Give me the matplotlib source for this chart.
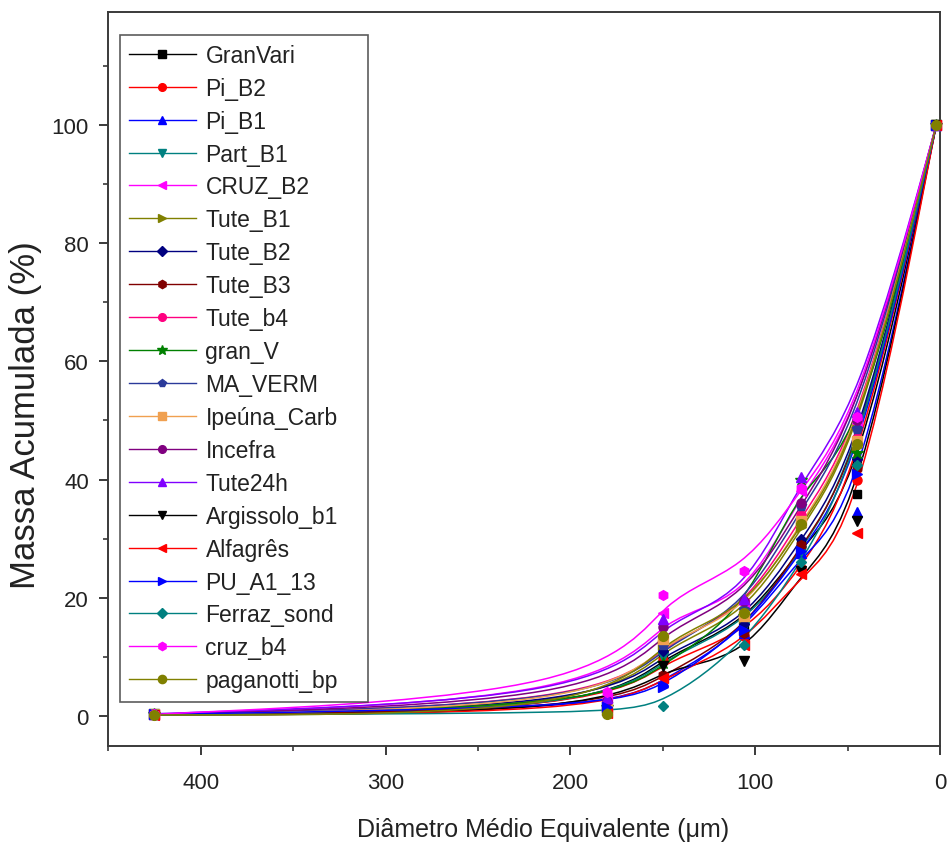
import numpy as np
import matplotlib
matplotlib.use("Agg")
import matplotlib.pyplot as plt
from matplotlib.path import Path
from matplotlib.patches import PathPatch
from matplotlib.lines import Line2D
from matplotlib.ticker import MultipleLocator

plt.rcParams['font.family'] = ['Liberation Sans', 'DejaVu Sans']

# ---- data -------------------------------------------------------------
diametro = [425, 180, 150, 106, 75, 45, 2]

GranVari     = [0.3, 0.8, 10.5, 15.0, 29.0, 37.5, 100]
Pi_B2        = [0.3, 1.0, 9.5, 13.5, 25.0, 40.0, 100]
Pi_B1        = [0.3, 1.0, 6.0, 14.0, 27.5, 34.5, 100]
Part_B1      = [0.3, 1.0, 10.0, 15.0, 28.0, 43.0, 100]
CRUZ_B2      = [0.3, 3.0, 17.5, 19.0, 38.0, 49.5, 100]
Tute_B1      = [0.3, 1.0, 12.0, 16.5, 32.0, 45.5, 100]
Tute_B2      = [0.3, 1.5, 11.0, 15.5, 30.0, 43.5, 100]
Tute_B3      = [0.3, 1.0, 7.0, 14.0, 29.0, 42.0, 100]
Tute_b4      = [0.3, 2.0, 12.5, 17.5, 34.0, 47.0, 100]
gran_V       = [0.3, 1.5, 9.0, 17.0, 40.0, 44.5, 100]
MA_VERM      = [0.3, 2.0, 12.0, 18.0, 35.5, 48.5, 100]
Ipeuna_Carb  = [0.3, 1.5, 13.0, 17.0, 33.0, 46.5, 100]
Incefra      = [0.3, 2.5, 15.0, 19.5, 36.0, 50.0, 100]
Tute24h      = [0.4, 3.0, 16.5, 19.8, 40.5, 51.5, 100]
Argissolo_b1 = [0.2, 0.5, 8.5, 9.4, 24.5, 33.0, 100]
Alfagres     = [0.2, 0.5, 6.5, 12.0, 24.0, 31.0, 100]
PU_A1_13     = [0.3, 1.5, 5.0, 14.5, 28.0, 41.0, 100]
Ferraz_sond  = [0.2, 0.5, 1.8, 12.0, 26.0, 42.5, 100]
cruz_b4      = [0.3, 4.0, 20.5, 24.5, 38.5, 50.5, 100]
paganotti_bp = [0.2, 0.3, 13.5, 17.5, 32.5, 46.0, 100]

nomes = ["GranVari", "Pi_B2", "Pi_B1", "Part_B1", "CRUZ_B2", "Tute_B1", "Tute_B2",
         "Tute_B3", "Tute_b4", "gran_V", "MA_VERM", "Ipeúna_Carb", "Incefra",
         "Tute24h", "Argissolo_b1", "Alfagrês", "PU_A1_13", "Ferraz_sond",
         "cruz_b4", "paganotti_bp"]
series = [GranVari, Pi_B2, Pi_B1, Part_B1, CRUZ_B2, Tute_B1, Tute_B2, Tute_B3,
          Tute_b4, gran_V, MA_VERM, Ipeuna_Carb, Incefra, Tute24h, Argissolo_b1,
          Alfagres, PU_A1_13, Ferraz_sond, cruz_b4, paganotti_bp]

# ---- styles -----------------------------------------------------------
cores = ["#000000", "#ff0000", "#0000ff", "#008080", "#ff00ff", "#808000",
         "#000080", "#800000", "#ff0080", "#008000", "#2b3a9a", "#f0a050",
         "#800080", "#8000ff", "#000000", "#ff0000", "#0000ff", "#008080",
         "#ff00ff", "#808000"]
marcadores = ["s", "o", "^", "v", "<", ">", "D", "h", "o", "*", "p", "s", "o",
              "^", "v", "<", ">", "D", "h", "o"]
tam = [6, 6.5, 7, 7, 7, 7, 5.5, 7, 6.5, 9, 7, 6.5, 6.5, 7, 7, 7, 7, 5.5, 7, 7]


def bspline_path(xs, ys):
    """Cubic B-spline (endpoints clamped) using the points as control
    polygon, converted to Bezier segments in data coordinates."""
    P = np.column_stack([xs, ys]).astype(float)
    Q = np.vstack([P[:1], P[:1], P, P[-1:], P[-1:]])
    verts = []
    codes = []
    for i in range(len(Q) - 3):
        q0, q1, q2, q3 = Q[i], Q[i + 1], Q[i + 2], Q[i + 3]
        b0 = (q0 + 4 * q1 + q2) / 6
        b1 = (2 * q1 + q2) / 3
        b2 = (q1 + 2 * q2) / 3
        b3 = (q1 + 4 * q2 + q3) / 6
        if i == 0:
            verts.append(tuple(b0))
            codes.append(Path.MOVETO)
        verts += [tuple(b1), tuple(b2), tuple(b3)]
        codes += [Path.CURVE4] * 3
    return Path(verts, codes)


fig = plt.figure(figsize=(9.48, 8.45), dpi=100)
ax = fig.add_axes([0.1142, 0.1163, 0.8774, 0.868])

handles = []
for nome, vals, c, mk, ms in zip(nomes, series, cores, marcadores, tam):
    patch = PathPatch(bspline_path(diametro, vals), facecolor="none",
                      edgecolor=c, lw=1.1, transform=ax.transData, zorder=2)
    ax.add_patch(patch)
    ax.plot(diametro, vals, ls="none", marker=mk, ms=ms, color=c,
            mec=c, zorder=3, clip_on=False)
    handles.append(Line2D([], [], color=c, lw=1.0, marker=mk, ms=ms * 0.85,
                          label=nome))

ax.set_xlim(450, 0)
ax.set_ylim(-5, 119)
ax.xaxis.set_major_locator(MultipleLocator(100))
ax.xaxis.set_minor_locator(MultipleLocator(50))
ax.yaxis.set_major_locator(MultipleLocator(20))
ax.yaxis.set_minor_locator(MultipleLocator(10))
ax.set_yticks([0, 20, 40, 60, 80, 100])

for sp in ax.spines.values():
    sp.set_color("#3a3a3a")
    sp.set_linewidth(1.4)
ax.tick_params(which="major", direction="out", length=6.5, width=1.4,
               color="#3a3a3a", labelsize=16, labelcolor="#222222")
ax.tick_params(axis="x", which="major", pad=12.5)
ax.tick_params(axis="y", which="major", pad=7.5)
ax.tick_params(which="minor", direction="out", length=3.5, width=1.2,
               color="#3a3a3a")
ax.tick_params(top=False, right=False, which="both")

ax.set_xlabel("Diâmetro Médio Equivalente (μm)", fontsize=18,
              color="#222222")
ax.xaxis.set_label_coords(0.5227, -0.1136)
ax.xaxis.label.set_va("center")
ax.set_ylabel("Massa Acumulada (%)", fontsize=25, color="#222222")
ax.yaxis.set_label_coords(-0.100, 0.4523)
ax.yaxis.label.set_va("center")

leg = ax.legend(handles=handles, loc="upper left", mode="expand",
                bbox_to_anchor=(0.0141, 0.9695, 0.298, 0.0),
                fontsize=16.5, labelspacing=0.433, handlelength=2.9,
                handletextpad=0.43, borderpad=0.4, borderaxespad=0,
                frameon=True, fancybox=False, edgecolor="#333333",
                numpoints=1)
leg.get_frame().set_linewidth(1.2)
for t in leg.get_texts():
    t.set_color("#222222")

fig.savefig("out.png", dpi=100)
